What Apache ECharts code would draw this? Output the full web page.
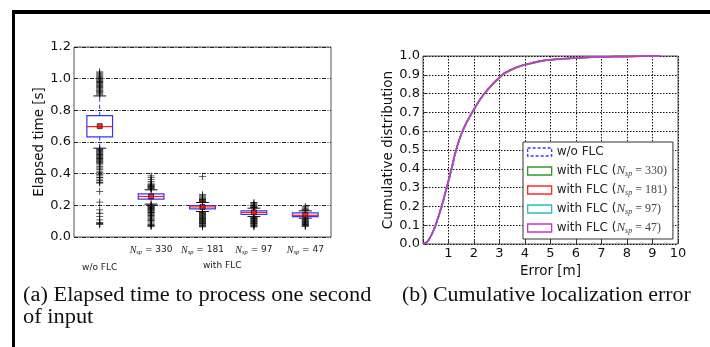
<!DOCTYPE html>
<html><head><meta charset="utf-8">
<script src="https://cdn.jsdelivr.net/npm/echarts@6/dist/echarts.min.js"></script>
<style>html,body{margin:0;padding:0;background:#fff}#c{width:710px;height:347px}</style>
</head><body><div id="c"></div>
<script>
// ---- Data: (a) elapsed time box plots ----
const boxCats = ['w/o FLC', '330', '181', '97', '47'];
// [lowCap, q1, median, q3, highCap]
const boxStats = [
  [0.561, 0.633, 0.697, 0.766, 0.891],
  [0.208, 0.239, 0.256, 0.273, 0.298],
  [0.161, 0.178, 0.190, 0.199, 0.218],
  [0.129, 0.142, 0.154, 0.165, 0.182],
  [0.119, 0.129, 0.137, 0.152, 0.165]
];
const boxMeans = [0.700, 0.256, 0.190, 0.156, 0.140];
const outliers0 = [1.043,1.036,1.029,1.022,1.015,1.008,1.001,0.994,0.988,0.982,0.976,0.970,0.964,0.958,0.952,0.946,0.940,0.934,0.928,0.922,0.916,0.910,0.904,0.898,
  0.556,0.551,0.546,0.541,0.536,0.531,0.526,0.521,0.516,0.511,0.506,0.501,0.496,0.491,0.486,0.481,0.476,0.471,0.466,0.456,0.446,0.436,0.426,0.416,0.406,0.396,0.386,0.376,0.366,0.356,0.346,0.341,
  0.288,0.220,0.171,0.150,0.129,0.108,0.092,0.087,0.083,0.078];
const outliers1 = [0.386,0.375,0.362,0.350,0.340,0.332,0.327,0.322,0.318,0.314,0.310,0.306,0.302,
  0.203,0.199,0.195,0.191,0.187,0.183,0.179,0.175,0.171,0.167,0.163,0.159,0.155,0.150,0.143,0.136,0.128,0.120,0.112,0.104,0.096,0.088,0.080,0.074,0.070,0.068];
const outliers2 = [0.383,0.267,0.259,0.252,0.246,0.241,0.237,0.233,0.229,0.225,0.222,
  0.157,0.153,0.149,0.145,0.141,0.137,0.133,0.129,0.125,0.121,0.117,0.113,0.109,0.105,0.101,0.097,0.093,0.089,0.085,0.081,0.077,0.073,0.069,0.065];
const outliers3 = [0.218,0.210,0.203,0.197,0.192,0.188,0.185,
  0.125,0.121,0.117,0.113,0.109,0.105,0.101,0.097,0.093,0.089,0.085,0.081,0.077,0.073,0.069,0.065];
const outliers4 = [0.192,0.184,0.178,0.173,0.169,
  0.115,0.111,0.107,0.103,0.099,0.095,0.091,0.087,0.083,0.079,0.075,0.071,0.067];

// ---- Data: (b) cumulative localization error ----
const cdfLevels = [0, 0.01, 0.04, 0.10, 0.20, 0.30, 0.40, 0.50, 0.60, 0.70, 0.80, 0.90, 0.93, 0.95, 0.97, 0.98, 0.99, 0.995, 0.998, 1.0];
const errNoFLC  = [0, 0.16, 0.31, 0.50, 0.74, 0.94, 1.13, 1.31, 1.56, 1.94, 2.41, 3.10, 3.48, 3.88, 4.45, 5.00, 6.00, 7.00, 8.00, 9.30];
const err330    = [0, 0.15, 0.30, 0.49, 0.73, 0.93, 1.12, 1.30, 1.55, 1.93, 2.42, 3.14, 3.55, 3.95, 4.55, 5.05, 6.05, 7.05, 8.05, 9.30];
const err181    = [0, 0.15, 0.30, 0.49, 0.73, 0.93, 1.12, 1.30, 1.55, 1.93, 2.41, 3.12, 3.52, 3.92, 4.50, 5.02, 6.02, 7.02, 8.02, 9.30];
const err97     = [0, 0.15, 0.30, 0.49, 0.73, 0.93, 1.12, 1.30, 1.55, 1.93, 2.40, 3.10, 3.50, 3.90, 4.48, 5.00, 6.00, 7.00, 8.00, 9.30];
const err47     = [0, 0.15, 0.30, 0.49, 0.72, 0.92, 1.11, 1.29, 1.54, 1.92, 2.39, 3.09, 3.48, 3.88, 4.46, 4.98, 5.98, 6.98, 7.98, 9.30];
const cdfNames  = ['w/o FLC', 'with FLC (N=330)', 'with FLC (N=181)', 'with FLC (N=97)', 'with FLC (N=47)'];
const cdfNsp    = [null, '330', '181', '97', '47'];
const cdfColors = ['#3a3aff', '#2e9a2e', '#ff2a2a', '#22bfbf', '#cc33cc'];

const chart = echarts.init(document.getElementById('c'), null, {renderer: 'canvas'});
const sans = 'DejaVu Sans';
const serif = 'Liberation Serif';

function zip(xs, ys) { return xs.map((x, i) => [x, ys[i]]); }
const outlierData = [];
[outliers0, outliers1, outliers2, outliers3, outliers4].forEach((arr, i) => arr.forEach(v => outlierData.push([i, v])));

const plusPath = 'path://M4.4,0h1.2v4.4h4.4v1.2h-4.4v4.4h-1.2v-4.4h-4.4v-1.2h4.4z';

const cdfSeries = [errNoFLC, err330, err181, err97, err47].map((xs, i) => ({
  type: 'line', name: cdfNames[i], xAxisIndex: 1, yAxisIndex: 1,
  data: zip(xs, cdfLevels), smooth: 0.35, showSymbol: false, symbol: 'none',
  lineStyle: {color: cdfColors[i], width: 1.5, type: i === 0 ? [4, 2] : 'solid'},
  itemStyle: {color: cdfColors[i]}, z: 3 + i, silent: true
}));

const labelRich = {
  n: {fontFamily: serif, fontStyle: 'italic', fontSize: 10, color: '#222'},
  s: {fontFamily: serif, fontStyle: 'italic', fontSize: 6.5, color: '#222', padding: [5, 0, 0, 0]},
  e: {fontFamily: sans, fontSize: 9, color: '#222'}
};
const legRich = {
  t: {fontFamily: sans, fontSize: 12, color: '#222'},
  n: {fontFamily: serif, fontStyle: 'italic', fontSize: 13, color: '#444'},
  s: {fontFamily: serif, fontStyle: 'italic', fontSize: 8, color: '#444', padding: [6, 0, 0, 0]},
  e: {fontFamily: serif, fontSize: 12, color: '#444'}
};
const tickFont = {fontFamily: sans, fontSize: 13, color: '#111'};
const nameFont = {fontFamily: sans, fontSize: 13.5, color: '#111'};

chart.setOption({
  animation: false,
  backgroundColor: '#fff',
  grid: [
    {left: 74, top: 47, width: 257, height: 190, show: true, borderColor: '#555', borderWidth: 1, backgroundColor: 'transparent'},
    {left: 423, top: 56, width: 255, height: 188, show: true, borderColor: '#555', borderWidth: 1, backgroundColor: 'transparent'}
  ],
  xAxis: [
    {type: 'category', gridIndex: 0, data: boxCats, boundaryGap: true,
      axisLine: {show: false}, axisTick: {show: false}, splitLine: {show: false},
      axisLabel: {interval: 0, margin: 4, lineHeight: 18,
        formatter: (v, i) => i === 0 ? '\n{e|w/o FLC}' : '{n|N}{s|sp}{e| = ' + v + '}',
        rich: labelRich}},
    {type: 'value', gridIndex: 1, min: 0, max: 10, interval: 1,
      axisLine: {show: false}, axisTick: {show: true, inside: true, length: 4, lineStyle: {color: '#333'}},
      splitLine: {show: true, lineStyle: {color: '#111', type: [1.5, 1.5], width: 1}},
      axisLabel: Object.assign({margin: 3, formatter: v => v === 0 ? '' : String(v)}, tickFont),
      name: 'Error [m]', nameLocation: 'middle', nameGap: 20, nameTextStyle: nameFont}
  ],
  yAxis: [
    {type: 'value', gridIndex: 0, min: 0, max: 1.2, interval: 0.2,
      axisLine: {show: false}, axisTick: {show: false},
      splitLine: {show: true, lineStyle: {color: '#222', type: [4, 1.5, 1, 1.5], width: 1}},
      axisLabel: Object.assign({margin: 3, formatter: v => v.toFixed(1)}, tickFont),
      name: 'Elapsed time [s]', nameLocation: 'middle', nameGap: 25, nameTextStyle: nameFont},
    {type: 'value', gridIndex: 1, min: 0, max: 1, interval: 0.1,
      axisLine: {show: false}, axisTick: {show: true, inside: true, length: 4, lineStyle: {color: '#333'}},
      splitLine: {show: true, lineStyle: {color: '#111', type: [1.5, 1.5], width: 1}},
      axisLabel: Object.assign({margin: 3, formatter: v => v.toFixed(1)}, tickFont),
      name: 'Cumulative distribution', nameLocation: 'middle', nameGap: 28, nameTextStyle: nameFont}
  ],
  legend: {
    orient: 'vertical', left: 523, top: 142, width: 150,
    backgroundColor: '#fff', borderColor: '#333', borderWidth: 1,
    padding: [3, 6, 4, 4], itemGap: 5, itemWidth: 24, itemHeight: 8,
    textStyle: {fontFamily: sans, fontSize: 12, color: '#222', lineHeight: 14, rich: legRich},
    formatter: name => {
      const i = cdfNames.indexOf(name);
      if (i === 0) return '{t|w/o FLC}';
      return '{t|with FLC (}{n|N}{s|sp}{e| = ' + cdfNsp[i] + ')}';
    },
    data: cdfNames.map((n, i) => ({name: n, icon: 'rect',
      itemStyle: {color: 'rgba(0,0,0,0)', borderColor: cdfColors[i], borderWidth: 1.3, borderType: i === 0 ? [3, 2] : 'solid'}}))
  },
  series: [
    {type: 'custom', xAxisIndex: 0, yAxisIndex: 0, z: 2, silent: true,
      data: boxStats.map((s, i) => [i, ...s]),
      encode: {x: 0, y: [1, 2, 3, 4, 5]},
      renderItem: (params, api) => {
        const i = api.value(0);
        const lo = api.coord([i, api.value(1)]), q1 = api.coord([i, api.value(2)]);
        const md = api.coord([i, api.value(3)]), q3 = api.coord([i, api.value(4)]);
        const hi = api.coord([i, api.value(5)]);
        const bw = api.size([1, 0])[0] * 0.5, cw = bw * 0.5, x = lo[0];
        const blue = '#3333ff';
        return {type: 'group', children: [
          {type: 'line', shape: {x1: x, y1: q3[1], x2: x, y2: hi[1]}, style: {stroke: blue, lineWidth: 1, lineDash: [4, 3]}},
          {type: 'line', shape: {x1: x, y1: q1[1], x2: x, y2: lo[1]}, style: {stroke: blue, lineWidth: 1, lineDash: [4, 3]}},
          {type: 'line', shape: {x1: x - cw / 2, y1: hi[1], x2: x + cw / 2, y2: hi[1]}, style: {stroke: '#111', lineWidth: 1}},
          {type: 'line', shape: {x1: x - cw / 2, y1: lo[1], x2: x + cw / 2, y2: lo[1]}, style: {stroke: '#111', lineWidth: 1}},
          {type: 'rect', shape: {x: x - bw / 2, y: q3[1], width: bw, height: q1[1] - q3[1]}, style: {fill: 'none', stroke: blue, lineWidth: 1.2}},
          {type: 'line', shape: {x1: x - bw / 2, y1: md[1], x2: x + bw / 2, y2: md[1]}, style: {stroke: '#ff1a1a', lineWidth: 1.2}}
        ]};
      }},
    {type: 'scatter', xAxisIndex: 0, yAxisIndex: 0, z: 3, silent: true,
      data: outlierData, symbol: plusPath, symbolSize: 7, itemStyle: {color: '#000'}},
    {type: 'scatter', xAxisIndex: 0, yAxisIndex: 0, z: 4, silent: true,
      data: boxMeans.map((v, i) => [i, v]), symbol: 'rect', symbolSize: 5,
      itemStyle: {color: '#ee0000', borderColor: '#000', borderWidth: 0.8}},
    ...cdfSeries
  ],
  graphic: [
    {type: 'rect', shape: {x: 12, y: 10, width: 698, height: 4}, style: {fill: '#000'}, silent: true},
    {type: 'rect', shape: {x: 12, y: 10, width: 3, height: 337}, style: {fill: '#000'}, silent: true},
    {type: 'text', left: 203, top: 261, style: {text: 'with FLC', font: '9px "DejaVu Sans"', fill: '#222'}},
    {type: 'text', x: 23, y: 296, scaleX: 1.12, style: {text: '(a) Elapsed time to process one second', font: '20px "Liberation Serif"', fill: '#111', verticalAlign: 'middle'}},
    {type: 'text', x: 23, y: 318, scaleX: 1.12, style: {text: 'of input', font: '20px "Liberation Serif"', fill: '#111', verticalAlign: 'middle'}},
    {type: 'text', x: 402, y: 296, scaleX: 1.095, style: {text: '(b) Cumulative localization error', font: '20px "Liberation Serif"', fill: '#111', verticalAlign: 'middle'}}
  ]
});
</script></body></html>
